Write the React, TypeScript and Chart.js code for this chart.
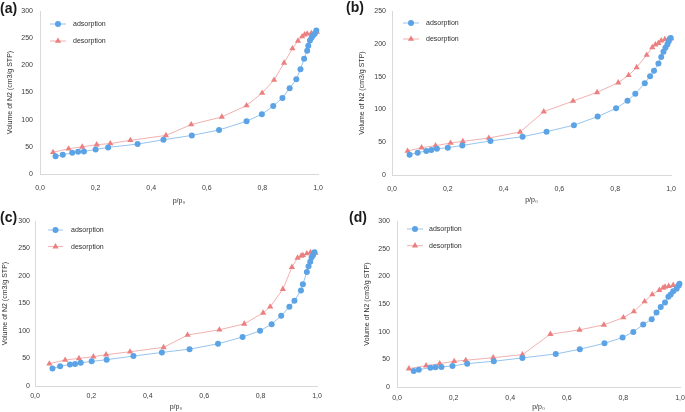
import { useEffect, useRef } from "react";
import { Chart, registerables } from "chart.js";
Chart.register(...registerables);

// ---------- data ----------
const xTickLabels = ["0,0", "0,2", "0,4", "0,6", "0,8", "1,0"];
const legendLabels = ["adsorption", "desorption"];
const panelLabels = ["(a)", "(b)", "(c)", "(d)"];
const yMaxes = [300, 250, 300, 300];
const xAxisTitle = "p/p\u2080";
const yAxisTitle = "Volume of N2 (cm3/g STP)";

const aAdsX = [0.056, 0.082, 0.116, 0.137, 0.158, 0.2, 0.245, 0.351, 0.444, 0.546, 0.644, 0.743, 0.798, 0.839, 0.872, 0.898, 0.922, 0.937, 0.95, 0.961, 0.965, 0.971, 0.977, 0.982, 0.988, 0.994];
const aAdsY = [32.5, 35.5, 39, 41, 41.6, 45, 49, 55, 63, 71, 81, 97, 110, 125, 140, 158, 174.5, 193, 212, 227, 236, 245.6, 251, 255, 258, 264];
const aDesX = [0.047, 0.103, 0.152, 0.204, 0.253, 0.325, 0.453, 0.544, 0.654, 0.743, 0.799, 0.842, 0.878, 0.908, 0.928, 0.943, 0.952, 0.961, 0.976, 0.988, 0.996];
const aDesY = [40, 46.5, 50, 54, 56, 62, 71, 91, 105, 126, 149, 173, 204.5, 231, 245, 253, 256.6, 258, 259, 260, 261.5];

const bAdsX = [0.063, 0.092, 0.123, 0.141, 0.161, 0.2, 0.252, 0.353, 0.468, 0.554, 0.652, 0.737, 0.803, 0.844, 0.872, 0.906, 0.925, 0.939, 0.955, 0.965, 0.973, 0.98, 0.987, 0.992, 0.999];
const bAdsY = [31, 34, 36.6, 38, 40, 41.7, 45, 52, 58.4, 66, 76, 89, 101.6, 113, 124, 139.7, 150.4, 159, 170, 180, 188, 194, 199, 203.7, 208.8];
const bDesX = [0.056, 0.106, 0.156, 0.21, 0.254, 0.347, 0.459, 0.544, 0.649, 0.735, 0.811, 0.848, 0.877, 0.913, 0.933, 0.944, 0.955, 0.965, 0.978, 0.99, 1.0];
const bDesY = [36.6, 41.7, 44.7, 48.8, 51.3, 56.4, 65.5, 96.5, 112.8, 126, 140.8, 152, 164, 182.9, 194.6, 198.7, 201, 204.8, 206.8, 207.3, 208.3];

const cAdsX = [0.062, 0.089, 0.124, 0.142, 0.162, 0.201, 0.254, 0.349, 0.45, 0.548, 0.649, 0.736, 0.798, 0.839, 0.873, 0.902, 0.92, 0.943, 0.95, 0.964, 0.97, 0.976, 0.981, 0.986, 0.991];
const cAdsY = [32, 35.7, 39.3, 40, 42.3, 44.8, 47.8, 54.4, 61, 67, 76.8, 89, 100.4, 112.5, 127.6, 144, 155, 173.6, 185, 207.5, 217.8, 226, 234, 238, 243];
const cDesX = [0.051, 0.107, 0.156, 0.207, 0.252, 0.337, 0.456, 0.541, 0.654, 0.742, 0.809, 0.834, 0.879, 0.911, 0.931, 0.944, 0.95, 0.964, 0.977, 0.994];
const cDesY = [40.5, 47.2, 50.2, 53.2, 56.9, 62.3, 70.2, 92.6, 102.2, 113, 133, 144, 176, 216, 233, 236.5, 237.7, 240.8, 243, 242];

const dAdsX = [0.059, 0.077, 0.118, 0.136, 0.157, 0.196, 0.248, 0.342, 0.443, 0.561, 0.646, 0.733, 0.797, 0.835, 0.87, 0.9, 0.917, 0.932, 0.947, 0.959, 0.967, 0.976, 0.988, 0.994, 0.998];
const dAdsY = [29, 31.4, 35, 35.6, 36.2, 38, 42.2, 46.5, 52.5, 59.7, 68.2, 79, 89.3, 99.6, 112.9, 122.5, 134.6, 144.8, 152.7, 163, 167, 173, 177.4, 183, 186.5];
const dDesX = [0.042, 0.103, 0.151, 0.202, 0.243, 0.34, 0.443, 0.542, 0.645, 0.731, 0.8, 0.837, 0.875, 0.902, 0.927, 0.94, 0.947, 0.96, 0.976, 0.996];
const dDesY = [33.2, 38.6, 42.2, 46.5, 48.3, 53, 58.5, 95.4, 103.2, 112.3, 125.5, 136.4, 154.5, 167.2, 175, 179.2, 181, 182.3, 184, 183.5];

// ---------- styles ----------
const FONT = "'Liberation Sans', Arial, sans-serif";
const ADS_POINT = "rgb(92,163,230)";
const ADS_LINE = "rgb(150,196,238)";
const DES_POINT = "rgb(236,128,128)";
const DES_LINE = "rgb(242,176,176)";
const TICK_COLOR = "#3a3a3a";
const TITLE_COLOR = "#2e2e2e";
const AXIS_COLOR = "#d9d9d9";

type Layout = {
  left: number; top: number; w: number; h: number;
  area: { l: number; r: number; t: number; b: number };
  yTitleX: number; yTickPad: number; xTickPad: number; xTitleY: number;
  legend: { x1: number; x2: number; tx: number; y1: number; y2: number };
  labelX: number; labelY: number;
};

const layouts: Layout[] = [
  { left: 0, top: 0, w: 340, h: 205, area: { l: 40, r: 318, t: 11, b: 174 }, yTitleX: 10, yTickPad: 7, xTickPad: 10, xTitleY: 201,
    legend: { x1: 10, x2: 26, tx: 33, y1: 13, y2: 30 }, labelX: 0, labelY: 0 },
  { left: 340, top: 0, w: 345, h: 205, area: { l: 52, r: 331, t: 11, b: 175 }, yTitleX: 22, yTickPad: 6, xTickPad: 10, xTitleY: 200,
    legend: { x1: 11, x2: 27, tx: 34, y1: 12, y2: 28 }, labelX: 6, labelY: -1 },
  { left: 0, top: 205, w: 340, h: 207, area: { l: 35, r: 317, t: 16, b: 181 }, yTitleX: 5, yTickPad: 5, xTickPad: 6, xTitleY: 202,
    legend: { x1: 13, x2: 28, tx: 36, y1: 9, y2: 25.6 }, labelX: 0, labelY: 4 },
  { left: 340, top: 205, w: 345, h: 207, area: { l: 57, r: 340, t: 16, b: 182 }, yTitleX: 27, yTickPad: 7, xTickPad: 7, xTitleY: 202,
    legend: { x1: 10, x2: 26, tx: 32, y1: 8, y2: 24.7 }, labelX: 9, labelY: 4 },
];

const seriesList = [
  [aAdsX, aAdsY, aDesX, aDesY],
  [bAdsX, bAdsY, bDesX, bDesY],
  [cAdsX, cAdsY, cDesX, cDesY],
  [dAdsX, dAdsY, dDesX, dDesY],
];

const zip = (xs: number[], ys: number[]) => xs.map((x, i) => ({ x, y: ys[i] }));

function drawTriangle(ctx: CanvasRenderingContext2D, x: number, y: number, r: number) {
  let rad = 0;
  ctx.beginPath();
  ctx.moveTo(x + Math.sin(rad) * r, y - Math.cos(rad) * r);
  rad += (2 * Math.PI) / 3;
  ctx.lineTo(x + Math.sin(rad) * r, y - Math.cos(rad) * r);
  rad += (2 * Math.PI) / 3;
  ctx.lineTo(x + Math.sin(rad) * r, y - Math.cos(rad) * r);
  ctx.closePath();
  ctx.fill();
}

function Panel({ idx }: { idx: number }) {
  const ref = useRef<HTMLCanvasElement>(null);
  const L = layouts[idx];
  useEffect(() => {
    const [ax, ay, dx, dy] = seriesList[idx];
    const lg = L.legend;
    const legendPlugin = {
      id: "customLegend" + idx,
      afterDraw(chart: any) {
        const ctx = chart.ctx as CanvasRenderingContext2D;
        const ca = chart.chartArea;
        ctx.save();
        const rows = [
          { y: ca.top + lg.y1, line: ADS_LINE, pt: ADS_POINT, tri: false, text: legendLabels[0] },
          { y: ca.top + lg.y2, line: DES_LINE, pt: DES_POINT, tri: true, text: legendLabels[1] },
        ];
        for (const r of rows) {
          ctx.strokeStyle = r.line;
          ctx.lineWidth = 1;
          ctx.beginPath();
          ctx.moveTo(ca.left + lg.x1, r.y);
          ctx.lineTo(ca.left + lg.x2, r.y);
          ctx.stroke();
          ctx.fillStyle = r.pt;
          const mx = ca.left + (lg.x1 + lg.x2) / 2;
          if (r.tri) drawTriangle(ctx, mx, r.y, 3.6);
          else {
            ctx.beginPath();
            ctx.arc(mx, r.y, 3, 0, Math.PI * 2);
            ctx.fill();
          }
          ctx.fillStyle = TITLE_COLOR;
          ctx.font = `7px ${FONT}`;
          ctx.textBaseline = "middle";
          ctx.textAlign = "left";
          ctx.fillText(r.text, ca.left + lg.tx, r.y);
        }
        ctx.restore();
      },
    };
    const titleLH = 7 * 1.2;
    const chart = new Chart(ref.current as HTMLCanvasElement, {
      type: "scatter",
      data: {
        datasets: [
          {
            label: legendLabels[0],
            data: zip(ax, ay),
            showLine: true,
            borderColor: ADS_LINE,
            borderWidth: 1,
            backgroundColor: ADS_POINT,
            pointBackgroundColor: ADS_POINT,
            pointBorderColor: ADS_POINT,
            pointBorderWidth: 0,
            pointRadius: 3,
            pointStyle: "circle",
            clip: false as any,
          },
          {
            label: legendLabels[1],
            data: zip(dx, dy),
            showLine: true,
            borderColor: DES_LINE,
            borderWidth: 1,
            backgroundColor: DES_POINT,
            pointBackgroundColor: DES_POINT,
            pointBorderColor: DES_POINT,
            pointBorderWidth: 0,
            pointRadius: 3.6,
            pointStyle: "triangle",
            clip: false as any,
          },
        ],
      },
      options: {
        responsive: false,
        animation: false,
        devicePixelRatio: 1,
        layout: { padding: { left: 0, top: L.area.t, right: L.w - L.area.r, bottom: 0 } },
        plugins: { legend: { display: false }, tooltip: { enabled: false } },
        scales: {
          x: {
            type: "linear",
            min: 0,
            max: 1,
            grid: { display: false, drawTicks: false },
            border: { display: true, color: AXIS_COLOR, width: 1 },
            ticks: {
              stepSize: 0.2,
              padding: L.xTickPad,
              autoSkip: false,
              maxRotation: 0,
              color: TICK_COLOR,
              font: { size: 7, family: FONT },
              callback: (_v: any, i: number) => xTickLabels[i],
            },
            title: {
              display: true,
              text: xAxisTitle,
              color: TITLE_COLOR,
              font: { size: 7, family: FONT },
              padding: { top: 0, bottom: Math.max(0, L.h - L.xTitleY - titleLH / 2) },
            },
            afterFit: (s: any) => {
              s.height = L.h - L.area.b;
              s.paddingLeft = 0;
              s.paddingRight = 0;
            },
          },
          y: {
            type: "linear",
            min: 0,
            max: yMaxes[idx],
            grid: { display: false, drawTicks: false },
            border: { display: true, color: AXIS_COLOR, width: 1 },
            ticks: {
              stepSize: 50,
              padding: L.yTickPad,
              color: TICK_COLOR,
              font: { size: 7, family: FONT },
            },
            title: {
              display: true,
              text: yAxisTitle,
              color: TITLE_COLOR,
              font: { size: 7, family: FONT },
              padding: { top: Math.max(0, L.yTitleX - titleLH / 2), bottom: 0 },
            },
            afterFit: (s: any) => {
              s.width = L.area.l;
              s.paddingTop = 0;
              s.paddingBottom = 0;
            },
          },
        },
      },
      plugins: [legendPlugin],
    } as any);
    return () => chart.destroy();
  }, [idx]);
  return (
    <div style={{ position: "absolute", left: L.left, top: L.top, width: L.w, height: L.h }}>
      <canvas ref={ref} width={L.w} height={L.h} style={{ width: L.w, height: L.h, display: "block" }} />
      <div
        style={{
          position: "absolute",
          left: L.labelX,
          top: L.labelY,
          font: `bold 14px ${FONT}`,
          color: "#1a1a1a",
          lineHeight: "16px",
        }}
      >
        {panelLabels[idx]}
      </div>
    </div>
  );
}

export default function App() {
  return (
    <div style={{ position: "absolute", left: 0, top: 0, width: 685, height: 412, background: "#fff", overflow: "hidden" }}>
      {[0, 1, 2, 3].map((i) => (
        <Panel key={i} idx={i} />
      ))}
    </div>
  );
}
